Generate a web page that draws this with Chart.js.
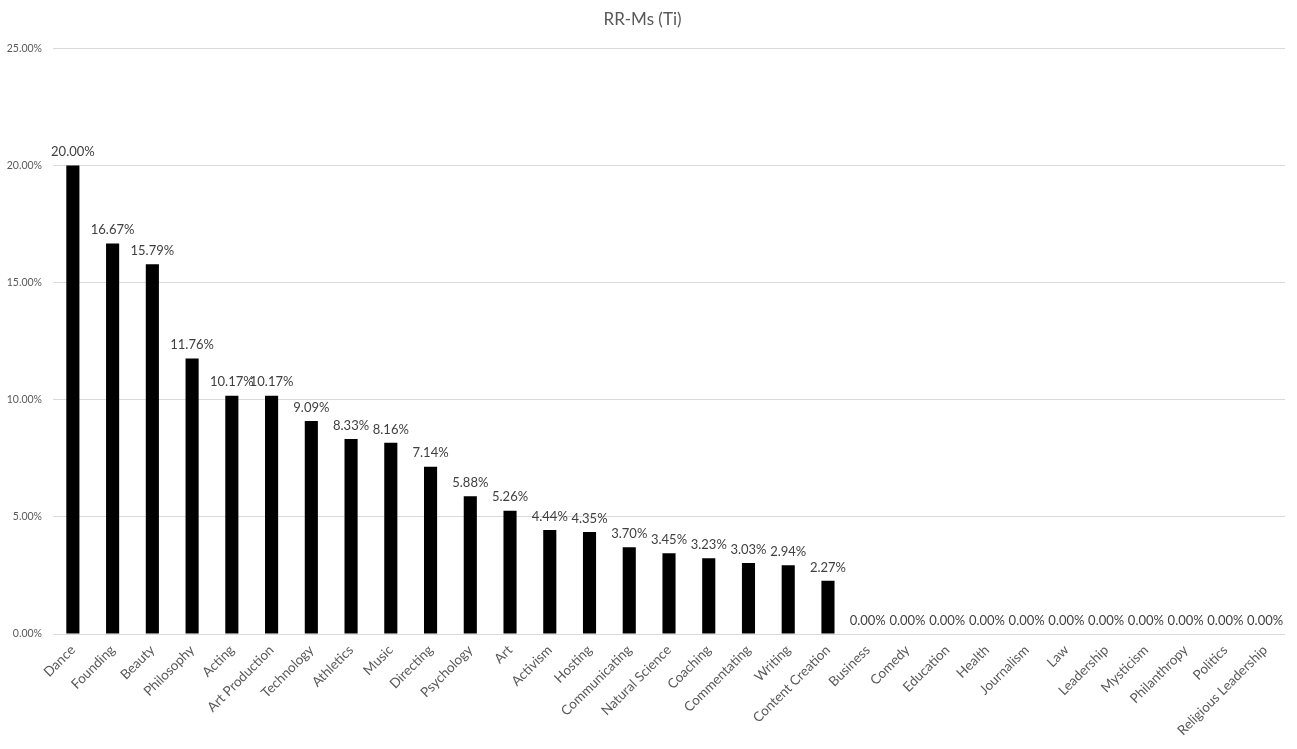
<!DOCTYPE html>
<html>
<head>
<meta charset="utf-8">
<script src="https://cdn.jsdelivr.net/npm/chart.js@4"></script>
<style>
  html, body { margin: 0; padding: 0; background: #fff; }
  #wrap { width: 1297px; height: 749px; }
</style>
</head>
<body>
<div id="wrap"><canvas id="rrChart"></canvas></div>
<script>
// categories and values (percent)
const categories = [
  'Dance', 'Founding', 'Beauty', 'Philosophy', 'Acting', 'Art Production',
  'Technology', 'Athletics', 'Music', 'Directing', 'Psychology', 'Art',
  'Activism', 'Hosting', 'Communicating', 'Natural Science', 'Coaching',
  'Commentating', 'Writing', 'Content Creation', 'Business', 'Comedy',
  'Education', 'Health', 'Journalism', 'Law', 'Leadership', 'Mysticism',
  'Philanthropy', 'Politics', 'Religious Leadership'
];
const shares = [
  20.00, 16.67, 15.79, 11.76, 10.17, 10.17, 9.09, 8.33, 8.16, 7.14, 5.88,
  5.26, 4.44, 4.35, 3.70, 3.45, 3.23, 3.03, 2.94, 2.27, 0, 0, 0, 0, 0, 0,
  0, 0, 0, 0, 0
];
const yMax = 25;
const yStep = 5;

const FONT = 'Lato, "Liberation Sans", sans-serif';

// draws the value above each bar
const valueLabels = {
  id: 'valueLabels',
  afterDatasetsDraw(chart) {
    const ctx = chart.ctx;
    const meta = chart.getDatasetMeta(0);
    ctx.save();
    ctx.font = '13px ' + FONT;
    ctx.fillStyle = '#404040';
    ctx.textAlign = 'center';
    ctx.textBaseline = 'bottom';
    meta.data.forEach(function(bar, i) {
      ctx.fillText(shares[i].toFixed(2) + '%', bar.x, bar.y - 7);
    });
    ctx.restore();
  }
};

const ctx = document.getElementById('rrChart').getContext('2d');
new Chart(ctx, {
  type: 'bar',
  data: {
    labels: categories,
    datasets: [{
      data: shares,
      backgroundColor: '#000000',
      borderWidth: 0,
      categoryPercentage: 1,
      barPercentage: 0.33
    }]
  },
  options: {
    responsive: true,
    maintainAspectRatio: false,
    animation: false,
    layout: { padding: { left: 0, right: 12, top: 0, bottom: 0 } },
    plugins: {
      legend: { display: false },
      tooltip: { enabled: false },
      title: {
        display: true,
        text: 'RR-Ms (Ti)',
        color: '#595959',
        font: { family: FONT, size: 17, weight: 'normal' },
        padding: { top: 9, bottom: 19 }
      }
    },
    scales: {
      x: {
        grid: { display: false, drawTicks: false },
        border: { display: false },
        ticks: {
          autoSkip: false,
          minRotation: 45,
          maxRotation: 45,
          padding: 8,
          color: '#595959',
          font: { family: FONT, size: 13.5 }
        },
        afterFit(scale) { scale.height = 115; }
      },
      y: {
        min: 0,
        max: yMax,
        grid: { color: '#d9d9d9', drawTicks: false },
        border: { display: false },
        ticks: {
          stepSize: yStep,
          padding: 11,
          color: '#595959',
          font: { family: FONT, size: 10.5 },
          callback: function(v) { return v.toFixed(2) + '%'; }
        },
        afterFit(scale) { scale.width = 53; }
      }
    }
  },
  plugins: [valueLabels]
});
</script>
</body>
</html>
